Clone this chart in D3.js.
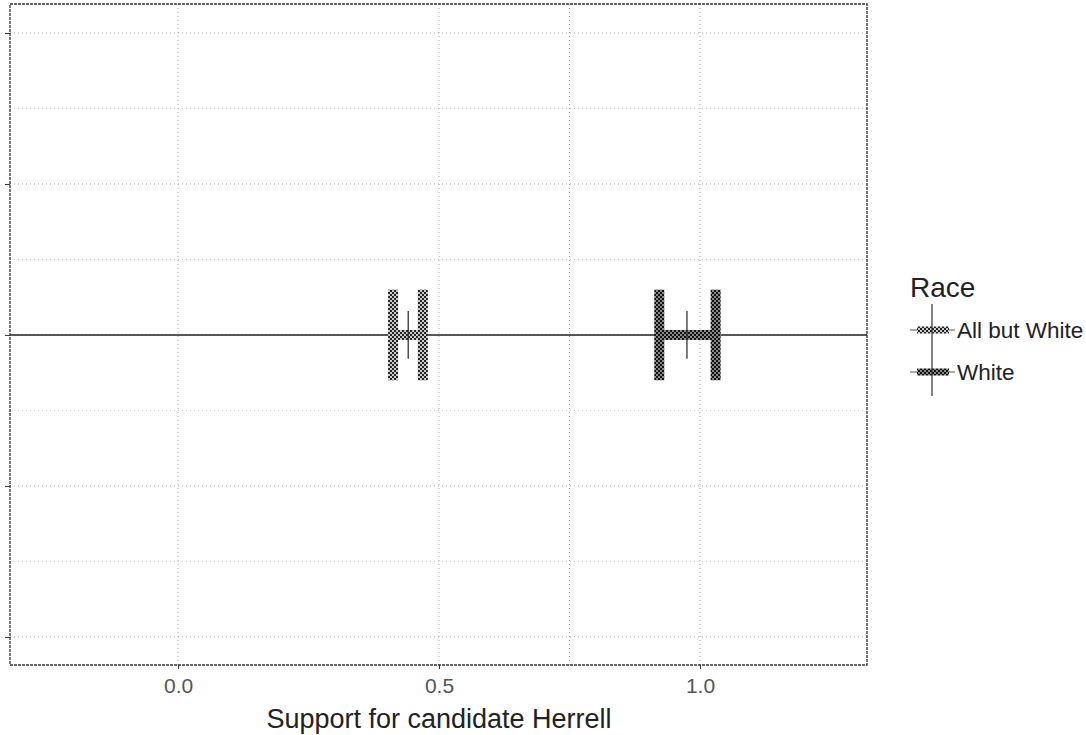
<!DOCTYPE html>
<meta charset="utf-8">
<script src="https://d3js.org/d3.v7.min.js"></script>
<style>
body { margin: 0; padding: 0; background: #fff; font-family: 'Liberation Sans', Arial, sans-serif; }
</style>
<body>
<div id="my_dataviz"></div>
<script>
// data
var races = ["All but White", "White"];
var estimates = [0.441, 0.975];
var lower = [0.412, 0.922];
var upper = [0.469, 1.030];
var xTicks = [0.0, 0.5, 1.0];
var xGrid = [0.0, 0.5, 0.75, 1.0];
var yTicks = [-1, -0.5, 0, 0.5, 1];
var yMinor = [-0.75, -0.25, 0.25, 0.75];

var W = 1086, H = 735;
var panel = {left: 10, right: 867, top: 4, bottom: 665};

var svg = d3.select("#my_dataviz").append("svg")
  .attr("width", W).attr("height", H);

// checker patterns to mimic the dithered fills
var defs = svg.append("defs");
function checker(id, dark, light) {
  var p = defs.append("pattern").attr("id", id)
    .attr("width", 4).attr("height", 4).attr("patternUnits", "userSpaceOnUse");
  p.append("rect").attr("width", 4).attr("height", 4).attr("fill", light);
  p.append("rect").attr("width", 2).attr("height", 2).attr("fill", dark);
  p.append("rect").attr("x", 2).attr("y", 2).attr("width", 2).attr("height", 2).attr("fill", dark);
}
checker("patA", "#222", "#ccc");
checker("patW", "#111", "#888");
var fills = {"All but White": "url(#patA)", "White": "url(#patW)"};

var x = d3.scaleLinear().domain([-0.322, 1.320]).range([panel.left, panel.right]);
var y = d3.scaleLinear().domain([-1.093, 1.096]).range([panel.bottom, panel.top]);

// grid
var grid = svg.append("g");
grid.selectAll(".hmin").data(yMinor).enter().append("line")
  .attr("x1", panel.left).attr("x2", panel.right)
  .attr("y1", function(d) { return y(d); }).attr("y2", function(d) { return y(d); })
  .attr("stroke", "#c8c8c8").attr("stroke-width", 1).attr("stroke-dasharray", "1,3");
grid.selectAll(".hmaj").data(yTicks).enter().append("line")
  .attr("x1", panel.left).attr("x2", panel.right)
  .attr("y1", function(d) { return y(d); }).attr("y2", function(d) { return y(d); })
  .attr("stroke", "#aaa").attr("stroke-width", 1).attr("stroke-dasharray", "1,3");
grid.selectAll(".vmaj").data(xGrid).enter().append("line")
  .attr("y1", panel.top).attr("y2", panel.bottom)
  .attr("x1", function(d) { return x(d); }).attr("x2", function(d) { return x(d); })
  .attr("stroke", "#aaa").attr("stroke-width", 1).attr("stroke-dasharray", "1,3");

// zero reference line
svg.append("line")
  .attr("x1", panel.left).attr("x2", panel.right)
  .attr("y1", y(0)).attr("y2", y(0))
  .attr("stroke", "#222").attr("stroke-width", 1.6);

// error bars
var capH = 0.15, barT = 10;
var eb = svg.append("g").selectAll("g").data(races).enter().append("g");
eb.append("rect")
  .attr("x", function(d, i) { return x(lower[i]); })
  .attr("width", function(d, i) { return x(upper[i]) - x(lower[i]); })
  .attr("y", y(0) - barT / 2).attr("height", barT)
  .attr("fill", function(d) { return fills[d]; });
eb.append("rect")
  .attr("x", function(d, i) { return x(lower[i]) - barT / 2; })
  .attr("width", barT)
  .attr("y", y(capH)).attr("height", y(-capH) - y(capH))
  .attr("fill", function(d) { return fills[d]; });
eb.append("rect")
  .attr("x", function(d, i) { return x(upper[i]) - barT / 2; })
  .attr("width", barT)
  .attr("y", y(capH)).attr("height", y(-capH) - y(capH))
  .attr("fill", function(d) { return fills[d]; });
// point estimate drawn as a thin vertical stroke
eb.append("line")
  .attr("x1", function(d, i) { return x(estimates[i]); })
  .attr("x2", function(d, i) { return x(estimates[i]); })
  .attr("y1", y(0.079)).attr("y2", y(-0.079))
  .attr("stroke", "#333").attr("stroke-width", 1.3);

// panel border
svg.append("rect")
  .attr("x", panel.left).attr("y", panel.top)
  .attr("width", panel.right - panel.left).attr("height", panel.bottom - panel.top)
  .attr("fill", "none").attr("stroke", "#333").attr("stroke-width", 1.3)
  .attr("stroke-dasharray", "3,1");

// axes
var xAxis = svg.append("g")
  .attr("transform", "translate(0," + panel.bottom + ")")
  .call(d3.axisBottom(x).tickValues(xTicks).tickFormat(d3.format(".1f")).tickSize(4).tickPadding(9));
xAxis.select(".domain").remove();
xAxis.selectAll("line").attr("stroke", "#333");
xAxis.selectAll("text").attr("fill", "#555").style("font-size", "21px")
  .style("font-family", "'Liberation Sans', Arial, sans-serif");

var yAxis = svg.append("g")
  .attr("transform", "translate(" + panel.left + ",0)")
  .call(d3.axisLeft(y).tickValues(yTicks).tickFormat("").tickSize(5));
yAxis.select(".domain").remove();
yAxis.selectAll("line").attr("stroke", "#333");

// x title
svg.append("text")
  .attr("x", x(0.5)).attr("y", 728)
  .attr("text-anchor", "middle")
  .style("font-size", "27px").attr("fill", "#222")
  .text("Support for candidate Herrell");

// legend
var leg = svg.append("g");
leg.append("text").attr("x", 910).attr("y", 297)
  .style("font-size", "28px").attr("fill", "#222").text("Race");
var keyY = [330, 372];
leg.selectAll(".keyline").data(races).enter().append("line")
  .attr("x1", 910).attr("x2", 955)
  .attr("y1", function(d, i) { return keyY[i]; }).attr("y2", function(d, i) { return keyY[i]; })
  .attr("stroke", "#555").attr("stroke-width", 1);
leg.selectAll(".keybar").data(races).enter().append("rect")
  .attr("x", 917).attr("width", 32)
  .attr("y", function(d, i) { return keyY[i] - 3.5; }).attr("height", 7)
  .attr("fill", function(d) { return fills[d]; });
leg.append("line").attr("x1", 932).attr("x2", 932).attr("y1", 304).attr("y2", 396)
  .attr("stroke", "#333").attr("stroke-width", 1.2);
leg.selectAll(".keylab").data(races).enter().append("text")
  .attr("x", 957).attr("y", function(d, i) { return keyY[i] + 8; })
  .style("font-size", "22.5px").attr("fill", "#222")
  .text(function(d) { return d; });
</script>
</body>
